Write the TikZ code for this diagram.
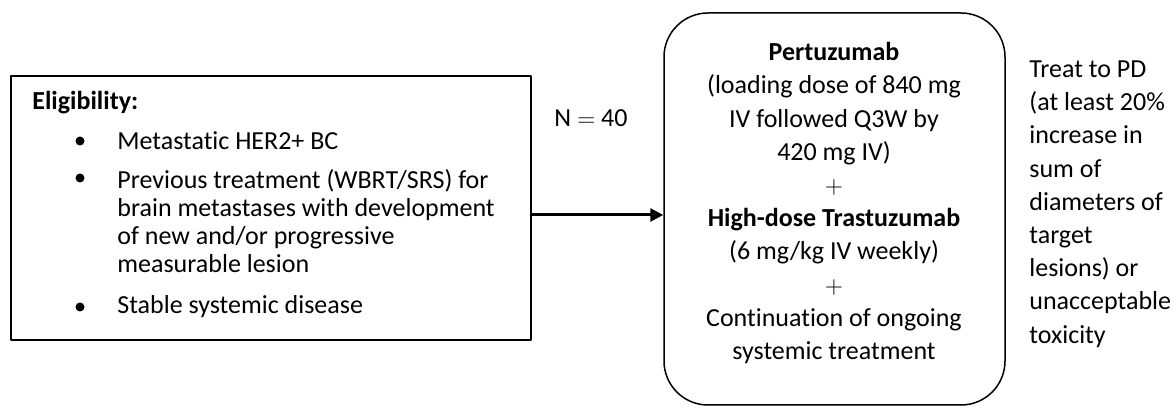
\documentclass[tikz,border=0pt]{standalone}
\usepackage{fontspec}
\setmainfont{Carlito}[Ligatures=NoCommon]
\usetikzlibrary{arrows.meta}
\begin{document}
\begin{tikzpicture}[x=0.5pt,y=-0.5pt,line join=round,
	box/.style={draw,line width=0.75pt,inner sep=0pt},
	txt/.style={inner sep=0pt,font=\fontsize{13}{14}\selectfont},
	wide/.style={inner sep=0pt,font=\fontsize{13}{16.6}\selectfont},
	dot/.style={circle,fill,inner sep=0pt,minimum size=4.5pt}]
	\useasboundingbox (0,0) rectangle (1174,410);
	% boxes
	\node[box,minimum width=260pt,minimum height=132pt] (elig) at (271,208) {};
	\node[box,rounded corners=22pt,minimum width=170.5pt,minimum height=196pt] (treat) at (834.5,209) {};
	\draw[line width=1.5pt,-{Triangle[length=6.5pt,width=6.5pt]}] ([yshift=-3.5pt]elig.east)--([yshift=-3.5pt]elig.east -| treat.west);
	\node[txt] (n) at (591,118) {N $=$ 40};
	% eligibility
	\node[txt,anchor=west] (title) at (32,103) {\textbf{Eligibility:}};
	\foreach \y in {141,178,307}
	\node[dot] (b\y) at (80,\y) {};
	\node[txt,anchor=west] (her) at (117,141) {Metastatic HER2+ BC};
	\node[txt,anchor=west,align=left] (prev) at (117,221) {Previous treatment (WBRT/SRS) for\\brain metastases with development\\of new and/or progressive\\measurable lesion};
	\node[txt,anchor=west] (stable) at (117,307) {Stable systemic disease};
	% treatment
	\node[wide,align=center] (dose) at (834,203) {\textbf{Pertuzumab}\\(loading dose of 840 mg\\IV followed Q3W by\\420 mg IV)\\$+$\\\textbf{High-dose Trastuzumab}\\(6 mg/kg IV weekly)\\$+$\\Continuation of ongoing\\systemic treatment};
	\node[wide,anchor=west,align=left] (pd) at (1029,204) {Treat to PD\\(at least 20\%\\increase in\\sum of\\diameters of\\target\\lesions) or\\unacceptable\\toxicity};
\end{tikzpicture}
\end{document}
